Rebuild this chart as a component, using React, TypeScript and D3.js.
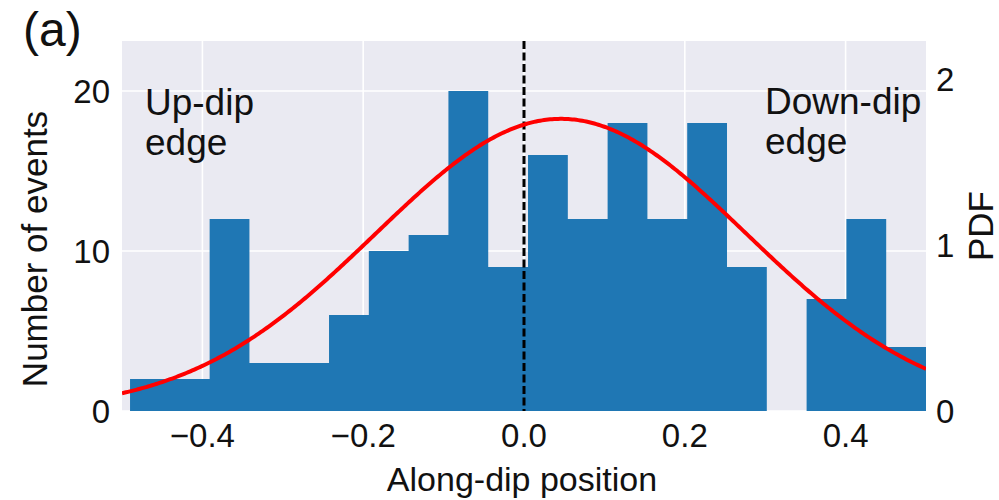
import React from "react";
import * as d3 from "d3";

// Histogram of event positions along dip (20 equal bins)
const binStart = -0.49;
const binWidth = 0.0495;
const counts = [2, 2, 12, 3, 3, 6, 10, 11, 20, 9, 16, 12, 18, 12, 18, 9, 0, 7, 12, 4];

// Fitted normal curve (right axis, PDF)
const fitMean = 0.046;
const fitStd = 0.2307;
const fitPeak = 1.76;

const xTicks = [-0.4, -0.2, 0.0, 0.2, 0.4];
const xTickLabels = ["\u22120.4", "\u22120.2", "0.0", "0.2", "0.4"];
const countTicks = [0, 10, 20];
const pdfTicks = [0, 1, 2];

const W = 999;
const H = 500;
const M = { left: 122, right: 926, top: 41, bottom: 411 };

const FONT = "'Liberation Sans', Arial, Helvetica, sans-serif";
const INK = "#111";

export default function App() {
  const x = d3.scaleLinear().domain([-0.5, 0.5]).range([M.left, M.right]);
  const yCount = d3.scaleLinear().domain([0, 23.125]).range([M.bottom, M.top]);
  const yPdf = d3.scaleLinear().domain([0, 2.229]).range([M.bottom, M.top]);

  const curveXs = d3.range(0, 401).map((i) => -0.5 + i / 400);
  const pdf = (v: number) =>
    fitPeak * Math.exp(-((v - fitMean) ** 2) / (2 * fitStd * fitStd));
  const line = d3
    .line<number>()
    .x((v) => x(v))
    .y((v) => yPdf(pdf(v)))
    .curve(d3.curveLinear);

  // histogram drawn as one filled step outline so neighbouring bins join seamlessly
  const histPath = d3.path();
  histPath.moveTo(x(binStart), yCount(0));
  counts.forEach((c, i) => {
    histPath.lineTo(x(binStart + i * binWidth), yCount(c));
    histPath.lineTo(x(binStart + (i + 1) * binWidth), yCount(c));
  });
  histPath.lineTo(x(binStart + counts.length * binWidth), yCount(0));
  histPath.closePath();

  return (
    <svg width={W} height={H} style={{ display: "block", position: "absolute", left: 0, top: 0 }}>
      <rect x={0} y={0} width={W} height={H} fill="#fff" />
      <defs>
        <clipPath id="plotClip">
          <rect x={M.left} y={M.top} width={M.right - M.left} height={M.bottom - M.top} />
        </clipPath>
      </defs>

      {/* axes background */}
      <rect x={M.left} y={M.top} width={M.right - M.left} height={M.bottom - M.top} fill="#EAEAF2" />

      {/* grid */}
      {xTicks.map((t) => (
        <line key={"gx" + t} x1={x(t)} x2={x(t)} y1={M.top} y2={M.bottom} stroke="#fff" strokeWidth={1.6} />
      ))}
      {countTicks.map((t) => (
        <line key={"gy" + t} x1={M.left} x2={M.right} y1={yCount(t)} y2={yCount(t)} stroke="#fff" strokeWidth={1.6} />
      ))}

      <g clipPath="url(#plotClip)">
        {/* histogram bars */}
        <path d={histPath.toString()} fill="#1f77b4" />

        {/* zero reference */}
        <line
          x1={x(0)}
          x2={x(0)}
          y1={M.top}
          y2={M.bottom}
          stroke="#000"
          strokeWidth={3}
          strokeDasharray="8,3.5"
        />

        {/* fitted PDF */}
        <path d={line(curveXs) ?? ""} fill="none" stroke="#ff0000" strokeWidth={4} />
      </g>

      {/* x tick labels */}
      {xTicks.map((t, i) => (
        <text
          key={"xt" + t}
          x={x(t)}
          y={447}
          textAnchor="middle"
          fontFamily={FONT}
          fontSize={33}
          fill={INK}
        >
          {xTickLabels[i]}
        </text>
      ))}

      {/* left tick labels */}
      {countTicks.map((t) => (
        <text
          key={"yl" + t}
          x={110}
          y={yCount(t)}
          dy="0.35em"
          textAnchor="end"
          fontFamily={FONT}
          fontSize={33}
          fill={INK}
        >
          {t}
        </text>
      ))}

      {/* right tick labels */}
      {pdfTicks.map((t) => (
        <text
          key={"yr" + t}
          x={936}
          y={yPdf(t)}
          dy="0.35em"
          textAnchor="start"
          fontFamily={FONT}
          fontSize={33}
          fill={INK}
        >
          {t}
        </text>
      ))}

      {/* axis titles */}
      <text x={522} y={491} textAnchor="middle" fontFamily={FONT} fontSize={34} fill={INK}>
        Along-dip position
      </text>
      <text
        transform="translate(47,249) rotate(-90)"
        textAnchor="middle"
        fontFamily={FONT}
        fontSize={35}
        fill={INK}
      >
        Number of events
      </text>
      <text
        transform="translate(993,226) rotate(-90)"
        textAnchor="middle"
        fontFamily={FONT}
        fontSize={35}
        fill={INK}
      >
        PDF
      </text>

      {/* edge annotations */}
      <text x={145} y={115} fontFamily={FONT} fontSize={37} fill={INK}>
        Up-dip
      </text>
      <text x={145} y={155} fontFamily={FONT} fontSize={37} fill={INK}>
        edge
      </text>
      <text x={765} y={114} fontFamily={FONT} fontSize={37} fill={INK}>
        Down-dip
      </text>
      <text x={765} y={154} fontFamily={FONT} fontSize={37} fill={INK}>
        edge
      </text>

      {/* panel label */}
      <text x={23} y={46} fontFamily={FONT} fontSize={48} fill={INK}>
        (a)
      </text>
    </svg>
  );
}
